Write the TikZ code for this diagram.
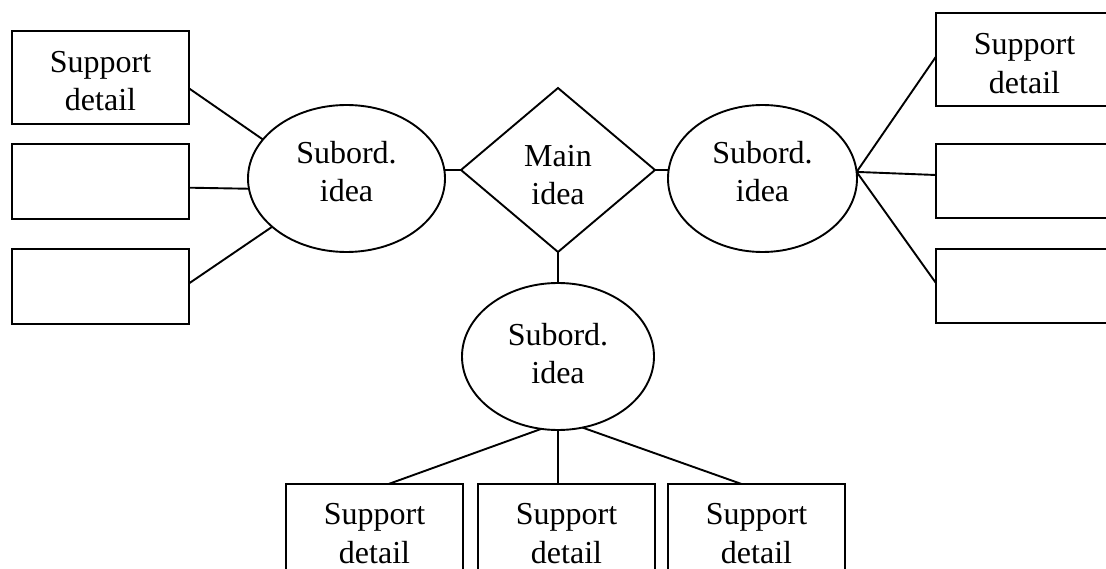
\documentclass[tikz,border=0pt]{standalone}
\usepackage{fontspec}
\setmainfont{Liberation Serif}
\usetikzlibrary{shapes.geometric}
\begin{document}
\begin{tikzpicture}[x=1pt,y=-1pt,
  every node/.style={font=\fontsize{32}{38.5}\selectfont, align=center, inner sep=0pt, outer sep=0pt},
  lw/.style={line width=1.9pt},
  boxnode/.style={draw, lw, minimum width=177pt, text height=67pt, text depth=0.2pt},
  ellnode/.style={draw, lw, ellipse, minimum height=147pt, text height=47pt, text depth=0.2pt},
  dianode/.style={draw, lw, diamond, minimum width=194pt, minimum height=164pt, text height=70pt, text depth=0.2pt},
  link/.style={lw}]
\useasboundingbox (0,0) rectangle (1106,569);
\clip (0,0) rectangle (1106,569);

% left boxes
\node[boxnode, minimum height=93pt] (L1) at (100.5,77.5) {Support\\detail};
\node[boxnode, minimum height=75pt] (L2) at (100.5,181.5) {};
\node[boxnode, minimum height=75pt] (L3) at (100.5,286.5) {};
% right boxes
\node[boxnode, minimum height=93pt] (R1) at (1024.5,59.7) {Support\\detail};
\node[boxnode, minimum height=74pt] (R2) at (1024.5,181.2) {};
\node[boxnode, minimum height=74pt] (R3) at (1024.5,286.2) {};
% bottom boxes
\node[boxnode, minimum height=92pt] (B1) at (374.5,530) {Support\\detail};
\node[boxnode, minimum height=92pt] (B2) at (566.5,530) {Support\\detail};
\node[boxnode, minimum height=92pt] (B3) at (756.5,530) {Support\\detail};

% ellipses and diamond
\node[ellnode, minimum width=197pt] (Lell) at (346.5,178.5) {Subord.\\idea};
\node[ellnode, minimum width=189pt] (Rell) at (762.5,178.5) {Subord.\\idea};
\node[ellnode, minimum width=192pt, text height=55pt] (Bell) at (558,356.5) {Subord.\\idea};
\node[dianode] (D) at (558,170) {Main\\idea};

% connectors
\draw[link] (L1.-7.4) -- (Lell.155);
\draw[link] (L2.-4.2) -- (Lell.186);
\draw[link] (L3.2.3) -- (Lell.213.4);
\draw[link] (D.west) -- (D.west -| Lell.east);
\draw[link] (D.east) -- (D.east -| Rell.west);
\draw[link] (D.south) -- (Bell.north);
\coordinate (rc) at (Rell.4);
\draw[link] (rc) -- (R1.178);
\draw[link] (rc) -- (R2.176);
\draw[link] (rc) -- (R3.178);
\draw[link] (Bell.-103.4) -- (B1.73.6);
\draw[link] (Bell.south) -- (Bell.south |- B2.north);
\draw[link] (Bell.-71.7) -- (B3.108.6);
\end{tikzpicture}
\end{document}
